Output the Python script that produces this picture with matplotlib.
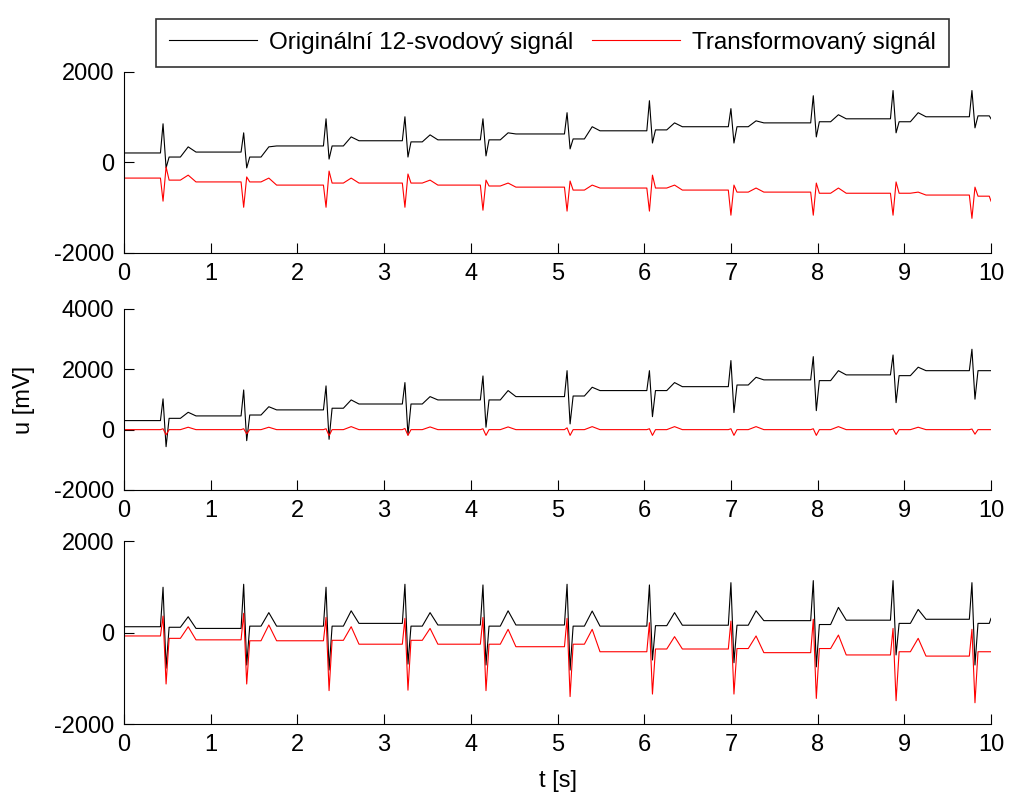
import numpy as np
import matplotlib
matplotlib.use("Agg")
import matplotlib.pyplot as plt

plt.rcParams['font.family'] = ['Liberation Sans', 'DejaVu Sans']
plt.rcParams['font.size'] = 17
plt.rcParams['axes.unicode_minus'] = False

# beat (QRS) times in seconds
beat_t = [0.45, 1.38, 2.33, 3.24, 4.14, 5.11, 6.06, 7.00, 7.95, 8.87, 9.78]

# ---- panel 1 ----
p1_orig_start, p1_orig_end = 210, 965
p1_orig_q1 = [855, 655, 965, 1010, 965, 1100, 1365, 1190, 1475, 1590, 1590]
p1_orig_q2 = [-120, -120, 75, 120, 145, 300, 430, 430, 565, 655, 765]
p1_orig_post = [120, 120, 365, 455, 500, 520, 720, 790, 900, 900, 1030]
p1_orig_t = [345, 345, 565, 610, 655, 790, 875, 920, 1055, 1100, 1000]
p1_orig_rest = [230, 365, 480, 500, 630, 700, 790, 875, 965, 1010, 965]

p1_tr_start, p1_tr_end = -345, -855
p1_tr_q1 = [-855, -990, -990, -990, -1055, -1075, -1075, -1165, -1165, -1165, -1235]
p1_tr_q2 = [-100, -320, -190, -255, -390, -410, -280, -500, -455, -430, -545]
p1_tr_post = [-390, -430, -455, -455, -520, -610, -565, -655, -680, -680, -745]
p1_tr_t = [-280, -345, -345, -390, -455, -500, -500, -565, -565, -655, -700]
p1_tr_rest = [-430, -500, -455, -500, -545, -565, -610, -655, -680, -720, -855]

# ---- panel 2 ----
p2_orig_start, p2_orig_end = 300, 1955
p2_orig_q1 = [1020, 1315, 1450, 1560, 1780, 1955, 1955, 2290, 2420, 2475, 2665]
p2_orig_q2 = [-565, -365, -320, -175, 80, 190, 430, 565, 630, 895, 1010]
p2_orig_post = [375, 485, 710, 850, 985, 1115, 1295, 1480, 1625, 1790, 1955]
p2_orig_t = [575, 760, 985, 1095, 1295, 1405, 1560, 1735, 1955, 2070, 2000]
p2_orig_rest = [455, 655, 850, 985, 1095, 1295, 1425, 1650, 1815, 1955, 1955]

p2_tr_start, p2_tr_end = 0, 0
p2_tr_q1 = [30, 30, 30, 40, 30, 60, 30, 30, 30, 20, 20]
p2_tr_q2 = [-170, -140, -200, -190, -190, -190, -190, -190, -190, -160, -150]
p2_tr_post = [0, 0, 0, 0, 0, 0, 0, 0, 0, 0, 0]
p2_tr_t = [80, 80, 100, 90, 90, 100, 100, 100, 100, 80, 0]
p2_tr_rest = [0, 0, 0, 0, 0, 0, 0, 0, 0, 0, 0]

# ---- panel 3 ----
p3_orig_start, p3_orig_end = 127, 310
p3_orig_q1 = [990, 1055, 990, 1055, 1040, 1055, 1040, 1090, 1135, 1135, 1090]
p3_orig_q2 = [-780, -710, -820, -690, -710, -820, -600, -660, -750, -490, -710]
p3_orig_post = [115, 140, 140, 140, 140, 140, 150, 160, 175, 200, 200]
p3_orig_t = [345, 435, 475, 435, 475, 470, 435, 475, 550, 505, 300]
p3_orig_rest = [90, 140, 200, 165, 165, 140, 160, 260, 270, 290, 310]

p3_tr_start, p3_tr_end = -75, -420
p3_tr_q1 = [360, 420, 330, 310, 330, 310, 215, 250, 290, 90, 70]
p3_tr_q2 = [-1125, -1125, -1270, -1260, -1270, -1400, -1345, -1345, -1440, -1490, -1535]
p3_tr_post = [-127, -180, -170, -170, -255, -255, -360, -350, -350, -420, -420]
p3_tr_t = [127, 165, 127, 90, 70, 70, -90, -75, -55, -127, -300]
p3_tr_rest = [-160, -180, -255, -255, -310, -420, -360, -440, -490, -515, -420]


def build(start, q1, q2, post, tw, rest, end):
    # connect the read-off key points of each beat
    ts, vs = [0.0], [start]
    prev = start
    for i, tb in enumerate(beat_t):
        pts = [(tb - 0.03, prev), (tb, q1[i]), (tb + 0.035, q2[i]),
               (tb + 0.07, post[i]), (tb + 0.2, post[i]),
               (tb + 0.29, tw[i]), (tb + 0.38, rest[i])]
        for t, v in pts:
            if t < 10:
                ts.append(t)
                vs.append(v)
        prev = rest[i]
    ts.append(10.0)
    vs.append(end)
    return np.array(ts), np.array(vs)


panels = [
    (build(p1_orig_start, p1_orig_q1, p1_orig_q2, p1_orig_post, p1_orig_t, p1_orig_rest, p1_orig_end),
     build(p1_tr_start, p1_tr_q1, p1_tr_q2, p1_tr_post, p1_tr_t, p1_tr_rest, p1_tr_end),
     (-2000, 2000), [-2000, 0, 2000]),
    (build(p2_orig_start, p2_orig_q1, p2_orig_q2, p2_orig_post, p2_orig_t, p2_orig_rest, p2_orig_end),
     build(p2_tr_start, p2_tr_q1, p2_tr_q2, p2_tr_post, p2_tr_t, p2_tr_rest, p2_tr_end),
     (-2000, 4000), [-2000, 0, 2000, 4000]),
    (build(p3_orig_start, p3_orig_q1, p3_orig_q2, p3_orig_post, p3_orig_t, p3_orig_rest, p3_orig_end),
     build(p3_tr_start, p3_tr_q1, p3_tr_q2, p3_tr_post, p3_tr_t, p3_tr_rest, p3_tr_end),
     (-2000, 2000), [-2000, 0, 2000]),
]

fig = plt.figure(figsize=(10.1, 7.98), dpi=100)
rects = [[0.1228, 0.6830, 0.8584, 0.2268],
         [0.1228, 0.3860, 0.8584, 0.2268],
         [0.1228, 0.0927, 0.8584, 0.2293]]

axes = []
for rect, (orig, tr, ylim, yt) in zip(rects, panels):
    ax = fig.add_axes(rect)
    l1, = ax.plot(orig[0], orig[1], color='black', lw=0.8)
    l2, = ax.plot(tr[0], tr[1], color='red', lw=0.8)
    ax.set_xlim(0, 10)
    ax.set_ylim(*ylim)
    ax.set_yticks(yt)
    ax.set_xticks(range(11))
    ax.spines['top'].set_visible(False)
    ax.spines['right'].set_visible(False)
    ax.tick_params(direction='in', length=7, width=0.8, labelsize=17, pad=7)
    axes.append(ax)

axes[1].set_ylabel('u [mV]', fontsize=17, labelpad=14)
axes[2].set_xlabel('t [s]', fontsize=17, labelpad=10)

leg = fig.legend([l1, l2], ['Originální 12-svodový signál', 'Transformovaný signál'],
                 loc='upper center', bbox_to_anchor=(0.547, 0.992), ncol=2,
                 fancybox=False, edgecolor='black', fontsize=17.5,
                 handlelength=3.6, columnspacing=0.8, handletextpad=0.5,
                 borderpad=0.55)
leg.get_frame().set_linewidth(1.2)

fig.savefig('out.png', dpi=100)
